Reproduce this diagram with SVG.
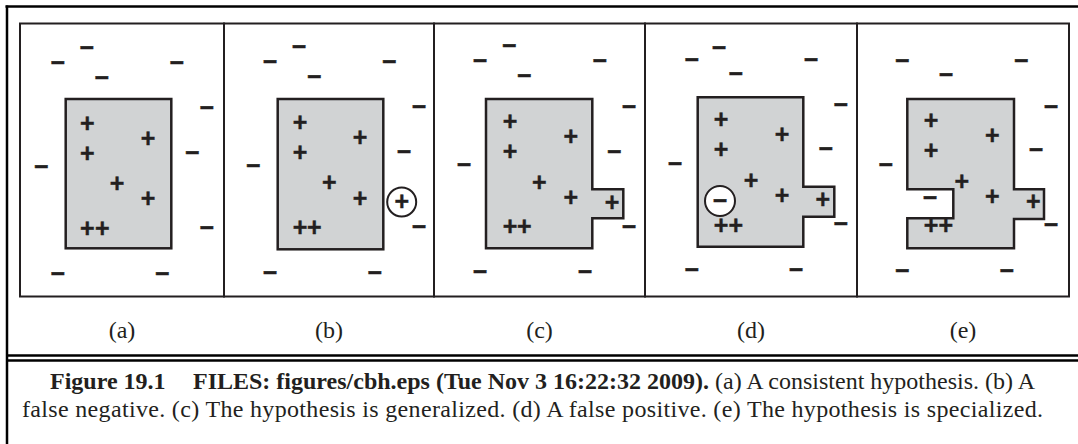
<svg xmlns="http://www.w3.org/2000/svg" width="1078" height="444" viewBox="0 0 1078 444">
<style>
.frame{fill:none;stroke:#231f20;stroke-width:2}
.hyp{fill:#d1d3d4;stroke:#231f20;stroke-width:2.5}
.ring{fill:#fff;stroke:#231f20;stroke-width:2}
.m{font-family:"Liberation Sans",Arial,sans-serif;font-weight:bold;font-size:25px;fill:#231f20;stroke:#231f20;stroke-width:0.4;text-anchor:middle}
.lbl{font-family:"Liberation Serif","Times New Roman",serif;font-size:24px;fill:#231f20;text-anchor:middle}
.cap{font-family:"Liberation Serif","Times New Roman",serif;font-size:24px;fill:#231f20}
.b{font-weight:bold}
.rule{stroke:#000;stroke-width:2.5;fill:none}
</style>
<rect width="1078" height="444" fill="#fff"/>
<g id="outer">
<line class="rule" x1="5.5" y1="6.5" x2="1078" y2="6.5"/>
<line class="rule" x1="7" y1="5.5" x2="7" y2="444"/>
<line class="rule" x1="7" y1="355.5" x2="1078" y2="355.5"/>
<line class="rule" x1="7" y1="360.5" x2="1078" y2="360.5"/>
</g>
<g id="panel-a">
<rect class="frame" x="20" y="23.5" width="204" height="273"/>
<rect class="hyp" x="65.7" y="99" width="105.6" height="149.3"/>
<text class="m" x="86.7" y="56.3">−</text>
<text class="m" x="57.7" y="71">−</text>
<text class="m" x="176.7" y="71">−</text>
<text class="m" x="101.7" y="85.7">−</text>
<text class="m" x="206.7" y="116.3">−</text>
<text class="m" x="192.3" y="161.3">−</text>
<text class="m" x="41.3" y="175.3">−</text>
<text class="m" x="206.7" y="236.3">−</text>
<text class="m" x="57.7" y="282.3">−</text>
<text class="m" x="162.3" y="282.3">−</text>
<text class="m" x="87.3" y="132">+</text>
<text class="m" x="148" y="146.7">+</text>
<text class="m" x="87.3" y="162">+</text>
<text class="m" x="117" y="192.3">+</text>
<text class="m" x="148" y="207">+</text>
<text class="m" x="87.3" y="236.7">+</text>
<text class="m" x="102.3" y="236.7">+</text>
<text class="lbl" x="122" y="338">(a)</text>
</g>
<g id="panel-b">
<rect class="frame" x="224" y="23.5" width="210" height="273"/>
<rect class="hyp" x="277.7" y="99" width="105.6" height="150.3"/>
<text class="m" x="299" y="55.3">−</text>
<text class="m" x="270" y="70.3">−</text>
<text class="m" x="389.3" y="70.3">−</text>
<text class="m" x="314.3" y="84.7">−</text>
<text class="m" x="419" y="115.3">−</text>
<text class="m" x="404" y="160.3">−</text>
<text class="m" x="253.3" y="174">−</text>
<text class="m" x="419" y="235.3">−</text>
<text class="m" x="270" y="281.3">−</text>
<text class="m" x="374.7" y="281.3">−</text>
<text class="m" x="300" y="131.3">+</text>
<text class="m" x="360" y="146">+</text>
<text class="m" x="300" y="161.3">+</text>
<text class="m" x="329.3" y="191.3">+</text>
<text class="m" x="360" y="207">+</text>
<text class="m" x="300" y="236.3">+</text>
<text class="m" x="314.3" y="236.3">+</text>
<circle class="ring" cx="401.7" cy="202" r="14.5"/>
<text class="m" x="401.7" y="210">+</text>
<text class="lbl" x="329" y="338">(b)</text>
</g>
<g id="panel-c">
<rect class="frame" x="434" y="23.5" width="211" height="273"/>
<path class="hyp" d="M486,99 H592.3 V189.3 H623.3 V218.3 H592.3 V248.3 H486 Z"/>
<text class="m" x="509.3" y="54">−</text>
<text class="m" x="480" y="69.3">−</text>
<text class="m" x="599.7" y="69.3">−</text>
<text class="m" x="524.3" y="83.7">−</text>
<text class="m" x="629" y="115.3">−</text>
<text class="m" x="614.3" y="159.7">−</text>
<text class="m" x="464" y="173">−</text>
<text class="m" x="629" y="234.7">−</text>
<text class="m" x="480" y="280.3">−</text>
<text class="m" x="585" y="280.3">−</text>
<text class="m" x="510" y="130.3">+</text>
<text class="m" x="570.7" y="145">+</text>
<text class="m" x="510" y="160">+</text>
<text class="m" x="539.3" y="190.7">+</text>
<text class="m" x="570.7" y="206">+</text>
<text class="m" x="612" y="210.7">+</text>
<text class="m" x="510" y="235.3">+</text>
<text class="m" x="524.3" y="235.3">+</text>
<text class="lbl" x="539.5" y="338">(c)</text>
</g>
<g id="panel-d">
<rect class="frame" x="645" y="23.5" width="212" height="273"/>
<path class="hyp" d="M697.7,97.3 H803.3 V186.7 H834.3 V216.7 H803.3 V246.7 H697.7 Z"/>
<text class="m" x="719" y="56.3">−</text>
<text class="m" x="691.7" y="68">−</text>
<text class="m" x="811" y="68">−</text>
<text class="m" x="735.7" y="82.3">−</text>
<text class="m" x="840.7" y="113.3">−</text>
<text class="m" x="825.7" y="157.3">−</text>
<text class="m" x="675" y="172.3">−</text>
<text class="m" x="840.7" y="232.3">−</text>
<text class="m" x="691.7" y="278">−</text>
<text class="m" x="796" y="278">−</text>
<text class="m" x="721" y="128">+</text>
<text class="m" x="782" y="143">+</text>
<text class="m" x="721" y="158">+</text>
<text class="m" x="751" y="189">+</text>
<text class="m" x="782" y="204">+</text>
<text class="m" x="822.7" y="208.3">+</text>
<text class="m" x="721" y="233.7">+</text>
<text class="m" x="735.7" y="233.7">+</text>
<circle class="ring" cx="720" cy="201" r="15"/>
<text class="m" x="720" y="209">−</text>
<text class="lbl" x="751" y="338">(d)</text>
</g>
<g id="panel-e">
<rect class="frame" x="857" y="23.5" width="212" height="273"/>
<path class="hyp" d="M907.3,99 H1014 V189.3 H1044 V219 H1014 V248.3 H907.3 V218.3 H953.3 V189.3 H907.3 Z"/>
<text class="m" x="902.3" y="68.7">−</text>
<text class="m" x="1021.3" y="68.7">−</text>
<text class="m" x="946" y="83.3">−</text>
<text class="m" x="1051" y="114.7">−</text>
<text class="m" x="1036" y="158">−</text>
<text class="m" x="885.7" y="173">−</text>
<text class="m" x="930" y="206.3">−</text>
<text class="m" x="1051" y="233.3">−</text>
<text class="m" x="902.3" y="279">−</text>
<text class="m" x="1006.7" y="279">−</text>
<text class="m" x="931" y="129">+</text>
<text class="m" x="992.3" y="144">+</text>
<text class="m" x="931" y="159">+</text>
<text class="m" x="961.7" y="189.7">+</text>
<text class="m" x="992.3" y="204.7">+</text>
<text class="m" x="1033.3" y="209.7">+</text>
<text class="m" x="931" y="234">+</text>
<text class="m" x="945.7" y="234">+</text>
<text class="lbl" x="963" y="338">(e)</text>
</g>
<g id="caption">
<text class="cap" y="389"><tspan class="b" x="50">Figure 19.1</tspan><tspan class="b" x="193">FILES: figures/cbh.eps (Tue Nov 3 16:22:32 2009).</tspan><tspan> (a) A consistent hypothesis. (b) A</tspan></text>
<text class="cap" x="22" y="417" textLength="1021" lengthAdjust="spacing">false negative. (c) The hypothesis is generalized. (d) A false positive. (e) The hypothesis is specialized.</text>
</g>
</svg>
